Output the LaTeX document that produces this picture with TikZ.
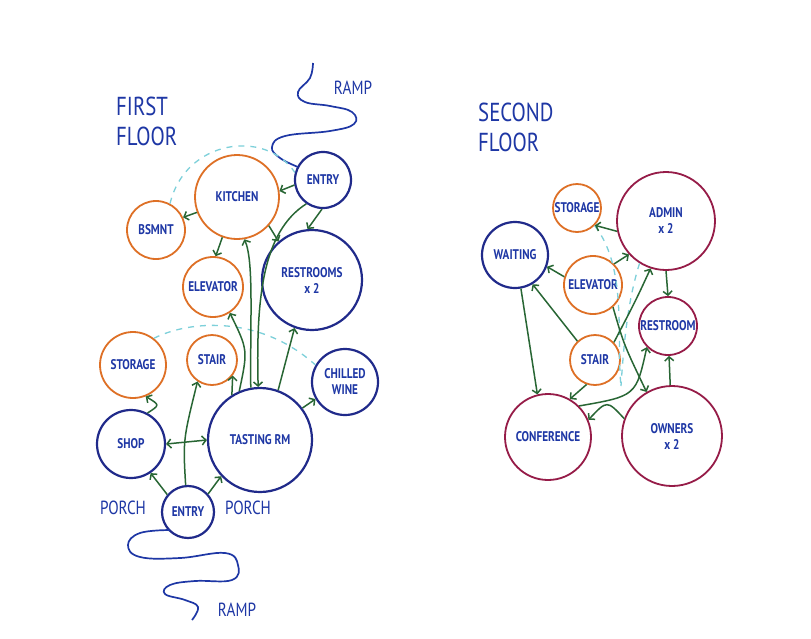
\documentclass[tikz,border=0pt]{standalone}
\usepackage{fontspec}
\newfontfamily\penfont[FakeStretch=0.8]{PT Sans}
\usepackage{xcolor}
\definecolor{roomorange}{RGB}{222,112,38}
\definecolor{roomblue}{RGB}{32,42,138}
\definecolor{roomred}{RGB}{150,28,72}
\definecolor{penblue}{RGB}{30,55,165}
\definecolor{pengreen}{RGB}{40,102,52}
\definecolor{hintcyan}{RGB}{125,208,218}
\usepackage{tikz}
\usetikzlibrary{arrows.meta}

\begin{document}
\begin{tikzpicture}[x=1pt, y=-1pt,
			room/.style={circle, draw, line width=1.8pt, inner sep=0pt, align=center, text=penblue,
				font=\penfont\bfseries\fontsize{14}{16}\selectfont},
			serviceroom/.style={room, draw=roomorange, minimum size=#1},
			publicroom/.style={room, draw=roomblue, line width=2.2pt, minimum size=#1},
			officeroom/.style={room, draw=roomred, minimum size=#1},
			link/.style={draw=pengreen, line width=1.5pt, -{Straight Barb[length=4pt,width=9pt]}},
			hint/.style={draw=hintcyan, line width=1.3pt, dash pattern=on 6pt off 6pt},
			ramp/.style={draw=penblue, line width=1.7pt, line join=round},
			note/.style={text=penblue, align=left, inner sep=0pt, font=\penfont\fontsize{19}{20}\selectfont},
			]
			\useasboundingbox[fill=white] (0,0) rectangle (811,638);
			\tikzset{title/.style={note, font=\penfont\fontsize{26}{30}\selectfont}}

			\node [title, anchor=north west] (first) at (116,97) {FIRST\\FLOOR};
			\node [title, anchor=north west] (second) at (478,103) {SECOND\\FLOOR};

			\node [serviceroom=84pt] (kitchen) at (237,197) {KITCHEN};
			\node [serviceroom=58pt] (bsmnt) at (156,230) {BSMNT};
			\node [publicroom=56pt] (entryA) at (323,180) {ENTRY};
			\node [serviceroom=60pt] (elevatorA) at (213,287) {ELEVATOR};
			\node [publicroom=100pt] (restrooms) at (312,280) {RESTROOMS\\x 2};
			\node [serviceroom=66pt] (storageA) at (133,365) {STORAGE};
			\node [serviceroom=50pt] (stairA) at (212,360) {STAIR};
			\node [publicroom=66pt] (chilled) at (345,382) {CHILLED\\WINE};
			\node [publicroom=68pt] (shop) at (131,444) {SHOP};
			\node [publicroom=104pt] (tasting) at (260,440) {TASTING RM};
			\node [publicroom=52pt] (entryB) at (188,512) {ENTRY};
			\node [note] (porchA) at (123,508) {PORCH};
			\node [note] (porchB) at (248,508) {PORCH};
			\node [note] (rampA) at (353,88) {RAMP};
			\node [note] (rampB) at (237,610) {RAMP};

			\node [serviceroom=48pt] (storageB) at (577,208) {STORAGE};
			\node [officeroom=98pt] (admin) at (666,221) {ADMIN\\x 2};
			\node [publicroom=66pt] (waiting) at (515,255) {WAITING};
			\node [serviceroom=58pt] (elevatorB) at (593,285) {ELEVATOR};
			\node [officeroom=58pt] (restroom) at (668,326) {RESTROOM};
			\node [serviceroom=50pt] (stairB) at (595,360) {STAIR};
			\node [officeroom=86pt] (conference) at (548,437) {CONFERENCE};
			\node [officeroom=100pt] (owners) at (672,436) {OWNERS\\x 2};
			\coordinate (gap) at (621,386);

			\draw [ramp] plot [smooth, tension=0.7] coordinates {(313,63) (310,78) (298,92) (305,102) (330,106) (352,112) (354,124) (330,131) (285,136) (272,147) (280,158) (298,167)};
			\draw [ramp] plot [smooth, tension=0.7] coordinates {(170,530) (140,533) (128,545) (140,557) (180,558) (225,553) (238,565) (232,580) (195,581) (170,585) (165,594) (185,600) (198,607) (192,620)};

			\draw [hint] (bsmnt.62) .. controls (185,140) and (265,128) .. (entryA.165);
			\draw [hint] (storageA.52) .. controls (190,320) and (260,315) .. (chilled.150);
			\draw [hint] (storageB.315) .. controls (628,268) and (616,340) .. (gap);
			\draw [hint] (admin.238) .. controls (628,300) and (624,340) .. (gap);

			\draw [link] (entryA.190) -- (kitchen.8);
			\draw [link] (entryA.268) -- (restrooms.95);
			\draw [link] (kitchen.201) -- (bsmnt.25);
			\draw [link] (kitchen.250) -- (elevatorA.85);
			\draw [link] (kitchen.318) -- (restrooms.131);
			\draw [link] (entryA.235) .. controls (262,232) and (256,300) .. (tasting.92);
			\draw [link] (tasting.100) .. controls (250,320) and (254,262) .. (kitchen.280);
			\draw [link] (tasting.113) .. controls (248,350) .. (elevatorA.303);
			\draw [link] (tasting.70) -- (restrooms.250);
			\draw [link] (tasting.122) -- (stairA.323);
			\draw [link] (tasting.37) -- (chilled.210);
			\draw [link, {Straight Barb[length=4pt,width=9pt]}-{Straight Barb[length=4pt,width=9pt]}] (shop.0) -- (tasting.180);
			\draw [link] (shop.62) .. controls (160,405) .. (storageA.292);
			\draw [link] (entryB.140) -- (shop.304);
			\draw [link] (entryB.42) -- (tasting.223);
			\draw [link] (entryB.95) .. controls (183,440) .. (stairA.236);

			\draw [link] (admin.192) -- (storageB.316);
			\draw [link] (elevatorB.45) -- (admin.222);
			\draw [link] (elevatorB.164) -- (waiting.340);
			\draw [link] (admin.270) -- (restroom.90);
			\draw [link] (stairB.133) -- (waiting.301);
			\draw [link] (waiting.280) -- (conference.104);
			\draw [link] (stairB.43) .. controls (636,300) .. (admin.252);
			\draw [link] (elevatorB.312) .. controls (624,345) .. (owners.120);
			\draw [link] (stairB.251) -- (conference.60);
			\draw [link] (conference.45) .. controls (636,396) .. (restroom.225);
			\draw [link] (owners.160) .. controls (607,400) .. (conference.23);
			\draw [link] (owners.92) -- (restroom.272);
		\end{tikzpicture}
\end{document}
